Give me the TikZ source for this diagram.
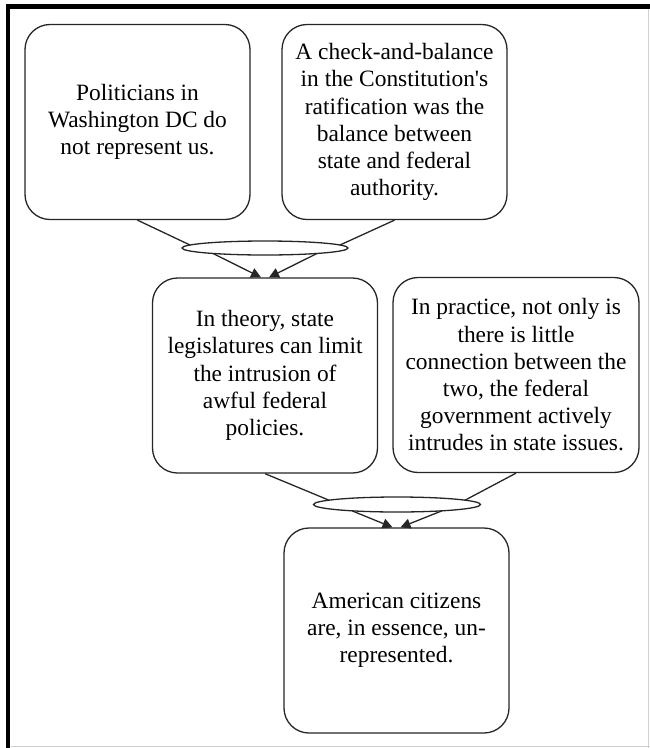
\documentclass[tikz,border=0pt]{standalone}
\usepackage{fontspec}
\setmainfont{Liberation Serif}
\usetikzlibrary{shapes.geometric,arrows.meta,calc}
\tikzset{
  claim/.style={draw=black!85, line width=1.3pt, fill=white, rounded corners=25pt,
    inner sep=0pt, align=center, minimum width=225pt, minimum height=195pt,
    font=\fontsize{23.4}{27.2}\selectfont},
  joiner/.style={draw=black!85, line width=1.3pt, fill=white, shape=ellipse,
    inner sep=0pt},
  link/.style={draw=black!85, line width=1.3pt},
  arrowlink/.style={draw=black!85, line width=1.3pt, -{Triangle[length=10pt,width=10pt]}}
}
\begin{document}
\begin{tikzpicture}[x=1pt,y=-1pt]
\useasboundingbox (0,0) rectangle (650,748);
% frame
\draw[line width=4.8pt, line join=miter] (8,748) -- (8,6.5) -- (650,6.5);
\draw[black!18, line width=1pt] (648.5,9) -- (648.5,748);
\draw[black!18, line width=1pt] (10.5,746.8) -- (650,746.8);

% boxes
\node[claim] (b1) at (137.5,122) {\raisebox{-6pt}{\begin{tabular}{@{}c@{}}Politicians in\\Washington DC do\\not represent us.\end{tabular}}};
\node[claim] (b2) at (394.5,122) {A check-and-balance\\in the Constitution\textquotesingle s\\ratification was the\\balance between\\state and federal\\authority.};
\node[claim] (b3) at (265,375.5) {In theory, state\\legislatures can limit\\the intrusion of\\awful federal\\policies.};
\node[claim, minimum width=246pt] (b4) at (516,375) {In practice, not only is\\there is little\\connection between the\\two, the federal\\government actively\\intrudes in state issues.};
\node[claim, minimum height=205pt] (b5) at (396.5,630.5) {American citizens\\are, in essence, un-\\represented.};

% joiners
\node[joiner, minimum width=166pt, minimum height=14pt] (e1) at (265,248) {};
\node[joiner, minimum width=167pt, minimum height=15pt] (e2) at (397,504.5) {};

% connectors, first step
\draw[link] (b1.south) -- ($(e1.center)+(-75,-3)$);
\draw[link] (b2.south) -- ($(e1.center)+(75,-3)$);
\draw[arrowlink] ($(e1.center)+(-52,5.5)$) -- ($(b3.north)+(-4,0)$);
\draw[arrowlink] ($(e1.center)+(52,5.5)$) -- ($(b3.north)+(4,0)$);

% connectors, second step
\draw[link] (b3.south) -- ($(e2.center)+(-68,-4.3)$);
\draw[link] (b4.south) -- ($(e2.center)+(68,-4.3)$);
\draw[arrowlink] ($(e2.center)+(-45,6.3)$) -- ($(b5.north)+(-4,0)$);
\draw[arrowlink] ($(e2.center)+(45,6.3)$) -- ($(b5.north)+(4,0)$);
\end{tikzpicture}
\end{document}
